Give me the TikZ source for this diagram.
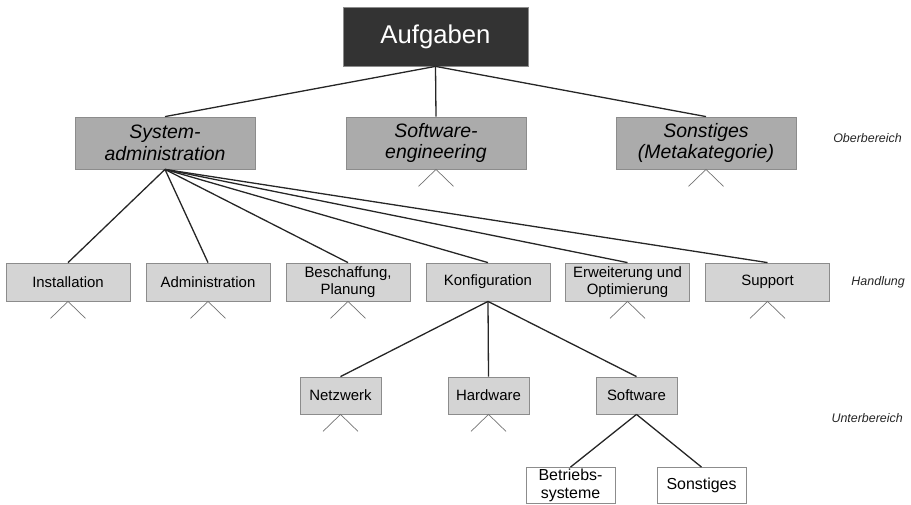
\documentclass[tikz,border=0pt]{standalone}
\usepackage{fontspec}
\setmainfont{Liberation Sans}
\begin{document}
\begin{tikzpicture}[x=1bp,y=-1bp,
  box/.style={draw=black!45, line width=0.8bp, inner sep=0pt, align=center},
  topbox/.style={box, fill=black!80, text=white, minimum width=185bp, minimum height=59bp, font=\fontsize{25.8}{30}\selectfont},
  lvlone/.style={box, fill=black!33, minimum width=180bp, minimum height=52bp, font=\fontsize{19.5}{22}\selectfont\itshape},
  lvltwo/.style={box, fill=black!17, minimum width=124bp, minimum height=38bp, font=\fontsize{15}{16.8}\selectfont},
  lvlthree/.style={box, fill=black!17, minimum width=81bp, minimum height=37bp, font=\fontsize{15}{16.5}\selectfont},
  lvlfour/.style={box, fill=white, minimum width=89bp, minimum height=36bp, font=\fontsize{16}{17.5}\selectfont},
  conn/.style={draw=black!85, line width=1.3bp},
  chev/.style={draw=black!55, line width=0.7bp},
  sidelabel/.style={font=\fontsize{12.5}{14}\selectfont\itshape, text=black!85, inner sep=0pt}
]
\useasboundingbox (0,0) rectangle (911,505);

\node[topbox] (auf) at (435.5,36.5) {Aufgaben};

\node[lvlone] (sa) at (165,143) {System-\\administration};
\node[lvlone] (se) at (436,143) {Software-\\engineering};
\node[lvlone] (so) at (706,143) {Sonstiges\\(Metakategorie)};

\node[lvltwo] (inst) at (68,282) {Installation};
\node[lvltwo] (adm) at (208,282) {Administration};
\node[lvltwo] (bes) at (348,282) {Beschaffung,\\Planung};
\node[lvltwo] (konf) at (488,282) {Konfiguration};
\node[lvltwo] (erw) at (627.5,282) {Erweiterung und\\Optimierung};
\node[lvltwo] (sup) at (767.5,282) {Support};

\node[lvlthree] (netz) at (340.5,395.5) {Netzwerk};
\node[lvlthree] (hard) at (488.5,395.5) {Hardware};
\node[lvlthree] (soft) at (636.5,395.5) {Software};

\node[lvlfour] (betr) at (570.5,485.5) {Betriebs-\\systeme};
\node[lvlfour] (sons) at (701.5,485.5) {Sonstiges};

\node[sidelabel, anchor=east] (lob) at (902,138) {Oberbereich};
\node[sidelabel, anchor=east] (lha) at (905,282) {Handlung};
\node[sidelabel, anchor=east] (lun) at (903,418) {Unterbereich};

\foreach \c in {sa,se,so}
  \draw[conn] (auf.south) -- (\c.north);
\foreach \c in {inst,adm,bes,konf,erw,sup}
  \draw[conn] (sa.south) -- (\c.north);
\foreach \c in {netz,hard,soft}
  \draw[conn] (konf.south) -- (\c.north);
\foreach \c in {betr,sons}
  \draw[conn] (soft.south) -- (\c.north);

\foreach \c in {se,so,inst,adm,bes,erw,sup,netz,hard}
  \draw[chev] (\c.south) ++(-17.5,17) -- (\c.south) -- ++(17.5,17);
\end{tikzpicture}
\end{document}
